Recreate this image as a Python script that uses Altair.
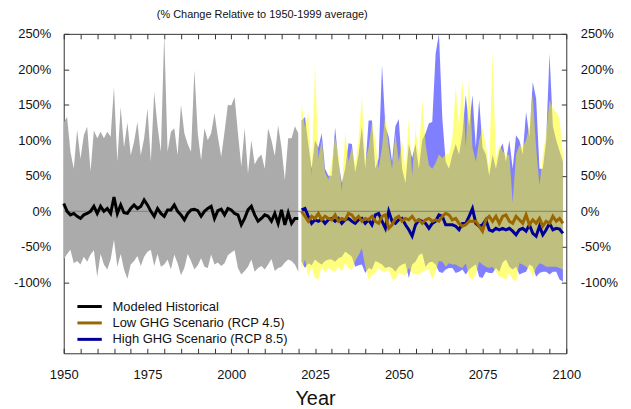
import altair as alt
import pandas as pd

# ---------------- data ----------------
hist_years = list(range(1950, 2021))
hist_upper = [125, 133, 84, 60, 115, 74, 107, 119, 56, 114, 103, 112, 103, 112, 105, 175, 70, 147, 90, 125,
              79, 98, 126, 79, 103, 145, 70, 168, 120, 84, 250, 84, 112, 117, 79, 150, 110, 95, 84, 199,
              110, 72, 117, 100, 110, 138, 105, 77, 112, 150, 149, 161, 110, 63, 117, 53, 100, 66, 75, 80,
              60, 117, 100, 78, 121, 90, 44, 103, 103, 120, 110]
hist_lower = [-68, -60, -54, -73, -70, -75, -64, -71, -61, -55, -92, -60, -75, -82, -68, -40, -78, -60, -82, -95,
              -75, -70, -63, -77, -64, -57, -54, -77, -60, -78, -75, -68, -82, -61, -73, -90, -80, -60, -70, -82,
              -76, -66, -78, -80, -61, -75, -72, -77, -73, -62, -58, -55, -80, -89, -84, -78, -68, -85, -80, -77,
              -82, -75, -67, -84, -80, -78, -72, -68, -70, -75, -85]
hist_mean = [11, 0, -5, -3, -7, -10, -5, -3, 0, 7, -3, 7, 0, 4, -3, 20, -3, 9, -2, -3,
             4, 9, 4, 7, 16, 9, 0, -7, 4, -3, -7, 2, 2, 9, 0, -5, -12, -3, 2, 3,
             1, -7, 0, 4, 7, -10, 1, 3, -5, 4, 2, -3, -5, -19, -10, 2, 7, -5, -14, -10,
             -5, -7, -14, -3, -17, 2, -19, -2, -17, -10, -10]

fut_years = list(range(2021, 2100))
rcp45_upper = [152, 118, 140, 50, 207, 75, 100, 55, 45, 70, 105, 80, 28, 112, 70, 90, 65, 100, 162, 70,
               90, 125, 100, 60, 90, 140, 90, 60, 110, 70, 100, 55, 131, 50, 117, 80, 157, 95, 65, 60,
               68, 80, 75, 80, 81, 103, 175, 121, 185, 90, 187, 90, 70, 100, 117, 93, 60, 225, 74, 93,
               85, 79, 80, 12, 80, 93, 91, 100, 120, 164, 90, 37, 79, 110, 157, 145, 140, 131, 79]
rcp85_upper = [128, 133, 95, 60, 100, 90, 110, 60, 50, 50, 118, 70, 40, 60, 96, 95, 55, 80, 120, 60,
               128, 128, 60, 75, 206, 120, 105, 70, 120, 130, 60, 40, 95, 75, 95, 60, 100, 110, 124, 126,
               222, 250, 131, 70, 60, 80, 95, 80, 110, 164, 120, 164, 90, 157, 90, 80, 50, 80, 60, 85,
               96, 70, 100, 60, 107, 100, 80, 140, 105, 182, 159, 60, 60, 100, 222, 120, 100, 85, 70]
rcp45_lower = [-82, -68, -92, -78, -94, -96, -78, -87, -80, -83, -85, -78, -85, -73, -80, -83, -70, -62, -52, -78,
               -96, -90, -87, -80, -85, -85, -82, -96, -96, -87, -89, -90, -80, -87, -89, -89, -85, -83, -82, -96,
               -85, -70, -71, -78, -73, -75, -75, -78, -80, -73, -93, -96, -89, -71, -75, -78, -80, -78, -85, -92,
               -94, -96, -87, -96, -99, -73, -75, -78, -82, -92, -80, -73, -75, -78, -78, -78, -78, -80, -82]
rcp85_lower = [-71, -80, -73, -76, -68, -72, -75, -70, -68, -68, -71, -66, -64, -57, -60, -64, -78, -76, -75, -87,
               -80, -82, -70, -72, -75, -80, -78, -80, -85, -78, -75, -73, -94, -75, -71, -62, -59, -78, -72, -71,
               -75, -85, -87, -82, -80, -80, -87, -85, -82, -89, -82, -78, -75, -92, -94, -85, -87, -87, -80, -85,
               -72, -68, -78, -82, -78, -89, -87, -85, -75, -78, -92, -87, -85, -85, -89, -85, -85, -96, -99]
rcp45_mean = [0, -7, -14, -7, -10, -3, -12, -7, -10, -12, -5, -14, -10, -12, -3, -5, -12, -7, -14, -10,
              -12, -7, -14, -17, -7, -5, -24, -19, -10, -7, -14, -10, -12, -7, -14, -12, -17, -12, -10, -14,
              -12, -14, -7, -3, -5, -12, -10, -17, -21, -19, -14, -14, -14, -21, -28, -12, -7, -14, -7, -17,
              -7, -5, -14, -17, -7, -12, -17, -5, -19, -12, -17, -10, -21, -14, -17, -7, -14, -10, -17]
rcp85_mean = [2, 4, -7, -17, -12, -14, -11, -17, -12, -10, -14, -10, -17, -12, -10, -14, -17, -12, -10, -17,
              -12, -19, -5, -3, -14, -24, 0, -14, -17, -12, -10, -19, -26, -35, -19, -12, -14, -17, -24, -17,
              -14, -5, -7, -19, -19, -19, -21, -26, -17, -17, -7, 4, -17, -21, -19, -12, -26, -28, -24, -26,
              -24, -26, -24, -28, -33, -26, -24, -28, -19, -31, -35, -21, -33, -26, -17, -26, -24, -25, -31]

series_names = ["Modeled Historical", "Low GHG Scenario (RCP 4.5)", "High GHG Scenario (RCP 8.5)"]
series_colors = ["#000000", "#996600", "#000099"]

y_ticks = [-100, -50, 0, 50, 100, 150, 200, 250]
x_ticks = list(range(1950, 2101, 5))

# ---------------- tables ----------------
hist = pd.DataFrame({"year": hist_years, "upper": hist_upper, "lower": hist_lower})
fut = pd.DataFrame({"year": fut_years, "y_up": rcp45_upper, "y_low": rcp45_lower,
                    "b_up": rcp85_upper, "b_low": rcp85_lower})
lines = pd.concat([
    pd.DataFrame({"year": hist_years, "value": hist_mean, "series": series_names[0]}),
    pd.DataFrame({"year": fut_years, "value": rcp45_mean, "series": series_names[1]}),
    pd.DataFrame({"year": fut_years, "value": rcp85_mean, "series": series_names[2]}),
], ignore_index=True)

FONT = "Liberation Sans"
xs = alt.Scale(domain=[1950, 2100], nice=False, zero=False)
ys = alt.Scale(domain=[-200, 250], nice=False, zero=False)

x_bottom = alt.Axis(orient="bottom", values=x_ticks,
                    labelExpr="datum.value % 25 == 0 ? datum.value : ''",
                    tickSize=alt.ExprRef("-5"), tickColor="#333", labelPadding=20, labelFlush=False,
                    labelFontSize=13, labelFont=FONT, labelColor="#111", domain=False, grid=False,
                    title="Year", titleFontSize=20, titleFontWeight="normal", titleFont=FONT,
                    titleColor="#111", titlePadding=7)
x_top = alt.Axis(orient="top", values=x_ticks, labels=False, tickSize=alt.ExprRef("-5"),
                 tickColor="#333", domain=False, grid=False, title=None)
y_left = alt.Axis(orient="left", values=y_ticks, labelExpr="datum.value + '%'",
                  tickSize=alt.ExprRef("-5"), tickColor="#333", labelPadding=18, labelFlush=False,
                  labelFontSize=13, labelFont=FONT, labelColor="#111", domain=False, grid=False, title=None)
y_right = alt.Axis(orient="right", values=y_ticks, labelExpr="datum.value + '%'",
                   tickSize=alt.ExprRef("-5"), tickColor="#333", labelPadding=19, labelFlush=False,
                   labelFontSize=13, labelFont=FONT, labelColor="#111", domain=False, grid=False, title=None)

color_enc = alt.Color("series:N", sort=series_names,
                      scale=alt.Scale(domain=series_names, range=series_colors),
                      legend=alt.Legend(title=None, orient="none", legendX=18, legendY=266,
                                        symbolType="M-2,0L2,0", symbolStrokeWidth=3, symbolSize=150,
                                        labelFontSize=13, labelFont=FONT, labelColor="#111",
                                        labelLimit=0, labelOffset=15, rowPadding=1.5, padding=0))

gray = alt.Chart(hist).mark_area(color="#ABABAB", opacity=1).encode(
    x=alt.X("year:Q", scale=xs, axis=x_bottom),
    y=alt.Y("upper:Q", scale=ys, axis=y_left),
    y2="lower:Q",
)
blue = alt.Chart(fut).mark_area(color="#0000FF", opacity=0.5).encode(
    x=alt.X("year:Q", scale=xs, axis=None),
    y=alt.Y("b_up:Q", scale=ys, axis=None),
    y2="b_low:Q",
)
yellow = alt.Chart(fut).mark_area(color="#FFFF00", opacity=0.5).encode(
    x=alt.X("year:Q", scale=xs, axis=None),
    y=alt.Y("y_up:Q", scale=ys, axis=None),
    y2="y_low:Q",
)
zero = alt.Chart(hist).mark_rule(color="#808080", strokeWidth=1).encode(
    y=alt.Y("z:Q", scale=ys, axis=None),
).transform_calculate(z="0").transform_filter("datum.year == 1950")

line_a = alt.Chart(lines).mark_line(strokeWidth=3).encode(
    x=alt.X("year:Q", scale=xs, axis=x_top),
    y=alt.Y("value:Q", scale=ys, axis=y_right),
    color=color_enc,
).transform_filter(alt.datum.series != series_names[1])
line_b = alt.Chart(lines).mark_line(strokeWidth=3).encode(
    x=alt.X("year:Q", scale=xs, axis=None),
    y=alt.Y("value:Q", scale=ys, axis=None),
    color=color_enc,
).transform_filter(alt.datum.series == series_names[1])

chart = alt.layer(gray, blue, yellow, zero, line_a, line_b).resolve_axis(
    x="independent", y="independent"
).resolve_scale(x="shared", y="shared", color="shared").properties(
    width=505, height=321,
    padding={"left": 5, "top": 0, "right": 5, "bottom": 0},
    title=alt.TitleParams("(% Change Relative to 1950-1999 average)", fontSize=11,
                          fontWeight="normal", font=FONT, color="#111", anchor="middle",
                          dx=-53, offset=8),
).configure_view(stroke="#333", strokeWidth=1)

chart.save("out.html", embed_options={"renderer": "svg", "actions": False})
